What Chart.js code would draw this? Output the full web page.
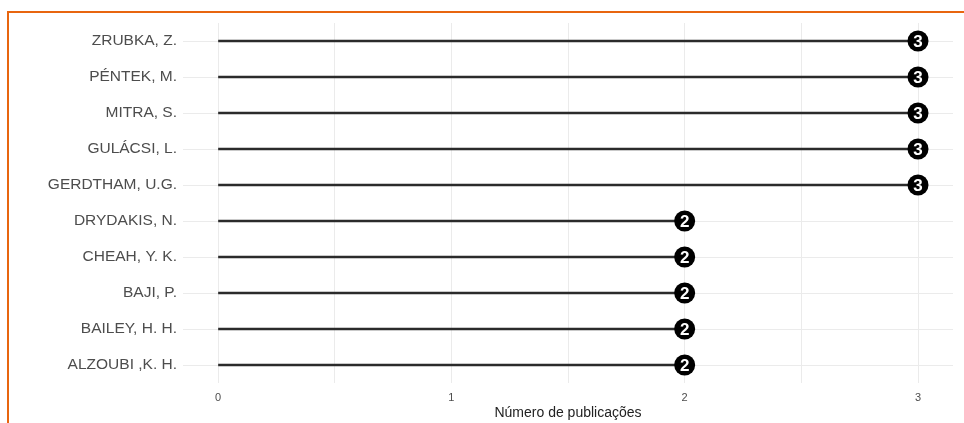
<!DOCTYPE html>
<html>
<head>
<meta charset="utf-8">
<script src="https://cdn.jsdelivr.net/npm/chart.js@4.4.1/dist/chart.umd.min.js"></script>
<style>
  html, body { margin: 0; padding: 0; background: #fff; }
  #wrap { position: relative; width: 964px; height: 423px; }
  #moldura {
    position: absolute; left: 7px; top: 11px; right: 0; bottom: 0;
    border-top: 2px solid #e8650f; border-left: 2px solid #e8650f;
    pointer-events: none;
  }
</style>
</head>
<body>
<div id="wrap">
  <canvas id="grafico" width="964" height="423"></canvas>
  <div id="moldura"></div>
</div>
<script>
// Dados do gráfico
const autores = ['ZRUBKA, Z.', 'PÉNTEK, M.', 'MITRA, S.', 'GULÁCSI, L.', 'GERDTHAM, U.G.',
  'DRYDAKIS, N.', 'CHEAH, Y. K.', 'BAJI, P.', 'BAILEY, H. H.', 'ALZOUBI ,K. H.'];
const publicacoes = [3, 3, 3, 3, 3, 2, 2, 2, 2, 2];
const ticksX = [0, 0.5, 1, 1.5, 2, 2.5, 3];

const fonte = "'Liberation Sans', Arial, sans-serif";

// Escreve o valor dentro de cada ponto
const rotulosPontos = {
  id: 'rotulosPontos',
  afterDatasetsDraw(chart) {
    const ctx = chart.ctx;
    const meta = chart.getDatasetMeta(1);
    ctx.save();
    ctx.fillStyle = '#fff';
    ctx.font = 'bold 17px ' + fonte;
    ctx.textAlign = 'center';
    ctx.textBaseline = 'middle';
    meta.data.forEach((pt, i) => {
      ctx.fillText(String(publicacoes[i]), pt.x, pt.y + 1);
    });
    ctx.restore();
  }
};

new Chart(document.getElementById('grafico'), {
  type: 'bar',
  data: {
    labels: autores,
    datasets: [
      {
        data: publicacoes,
        backgroundColor: '#2b2b2b',
        barThickness: 2,
        order: 2
      },
      {
        type: 'line',
        data: autores.map((a, i) => ({ x: publicacoes[i], y: a })),
        showLine: false,
        pointRadius: 10.5,
        pointHoverRadius: 10.5,
        pointBackgroundColor: '#000',
        pointBorderWidth: 0,
        order: 1
      }
    ]
  },
  options: {
    indexAxis: 'y',
    responsive: false,
    animation: false,
    layout: { padding: { top: 23, right: 11, left: 0, bottom: 0 } },
    plugins: { legend: { display: false }, tooltip: { enabled: false } },
    scales: {
      x: {
        type: 'linear',
        min: -0.15,
        max: 3.15,
        afterBuildTicks: (s) => { s.ticks = ticksX.map(v => ({ value: v })); },
        afterFit: (s) => { s.height = 40; },
        grid: { color: '#ebebeb', lineWidth: 1, drawTicks: false },
        border: { display: false },
        ticks: {
          padding: 8,
          color: '#4d4d4d',
          font: { family: fonte, size: 11 },
          callback: (v) => Number.isInteger(v) ? String(v) : ''
        },
        title: {
          display: true,
          text: 'Número de publicações',
          color: '#222',
          font: { family: fonte, size: 14 },
          padding: { top: 0, bottom: 1 }
        }
      },
      y: {
        afterFit: (s) => { s.width = 183; },
        grid: { color: '#ebebeb', lineWidth: 1, drawTicks: false, offset: false },
        border: { display: false },
        ticks: {
          padding: 6,
          color: '#4d4d4d',
          font: { family: fonte, size: 15.5 }
        }
      }
    }
  },
  plugins: [rotulosPontos]
});
</script>
</body>
</html>
